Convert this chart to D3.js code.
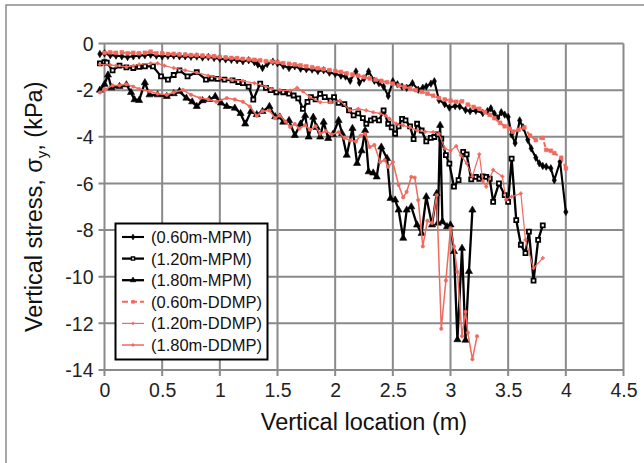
<!DOCTYPE html>
<html>
<head>
<meta charset="utf-8">
<script src="https://cdn.jsdelivr.net/npm/d3@7/dist/d3.min.js"></script>
<style>
  html, body { margin: 0; padding: 0; background: #fff; }
  svg { display: block; font-family: Arial, "Liberation Sans", sans-serif; }
</style>
</head>
<body>
<svg id="chart" width="644" height="463"></svg>
<script>
// Axis ticks
const xTicks = [0, 0.5, 1, 1.5, 2, 2.5, 3, 3.5, 4, 4.5];
const yTicks = [0, -2, -4, -6, -8, -10, -12, -14];

// Series: [vertical location (m), vertical stress (kPa)]
const mpm060 = [[-0.04,-0.45],[0.0,-0.42],[0.05,-0.5],[0.1,-0.52],[0.15,-0.55],[0.2,-0.58],[0.25,-0.55],[0.3,-0.52],[0.35,-0.5],[0.4,-0.48],[0.45,-0.52],[0.5,-0.55],[0.55,-0.53],[0.6,-0.52],[0.65,-0.55],[0.7,-0.55],[0.75,-0.57],[0.8,-0.56],[0.85,-0.6],[0.9,-0.58],[0.95,-0.62],[1.0,-0.65],[1.05,-0.68],[1.1,-0.7],[1.15,-0.72],[1.2,-0.76],[1.25,-0.72],[1.3,-0.8],[1.33,-0.9],[1.37,-1.05],[1.41,-0.88],[1.46,-0.78],[1.5,-0.85],[1.55,-0.95],[1.6,-1.05],[1.65,-0.98],[1.7,-1.08],[1.75,-1.1],[1.8,-1.12],[1.85,-1.18],[1.9,-1.15],[1.95,-1.25],[2.0,-1.3],[2.05,-1.38],[2.09,-1.42],[2.13,-1.6],[2.18,-1.2],[2.21,-1.68],[2.25,-1.5],[2.29,-1.2],[2.34,-1.6],[2.38,-1.7],[2.42,-1.85],[2.46,-2.25],[2.5,-1.62],[2.54,-1.75],[2.58,-1.85],[2.62,-1.9],[2.67,-1.7],[2.72,-1.98],[2.76,-1.9],[2.79,-1.84],[2.83,-1.72],[2.86,-1.62],[2.9,-2.42],[2.95,-2.6],[2.99,-2.75],[3.04,-2.68],[3.08,-2.7],[3.13,-2.85],[3.17,-2.9],[3.22,-2.88],[3.28,-2.98],[3.32,-2.9],[3.35,-2.78],[3.38,-3.0],[3.41,-3.2],[3.44,-2.95],[3.47,-3.05],[3.5,-3.15],[3.53,-3.9],[3.56,-4.27],[3.6,-3.3],[3.63,-3.6],[3.67,-4.13],[3.7,-4.5],[3.74,-4.9],[3.77,-5.14],[3.8,-5.25],[3.83,-5.28],[3.87,-5.35],[3.9,-5.86],[3.95,-5.07],[4.0,-7.22]];

const mpm120 = [[-0.04,-0.85],[0.0,-0.8],[0.02,-0.82],[0.07,-1.15],[0.13,-0.95],[0.19,-1.02],[0.25,-1.05],[0.3,-1.0],[0.35,-0.98],[0.42,-0.98],[0.49,-1.41],[0.55,-1.55],[0.6,-1.35],[0.65,-1.15],[0.72,-1.41],[0.8,-1.23],[0.88,-1.55],[0.93,-1.5],[0.98,-1.52],[1.04,-1.55],[1.11,-1.58],[1.16,-1.65],[1.2,-1.7],[1.25,-1.85],[1.29,-2.41],[1.35,-1.72],[1.4,-1.9],[1.44,-2.0],[1.49,-2.09],[1.55,-2.09],[1.6,-2.15],[1.64,-2.23],[1.68,-2.35],[1.72,-2.8],[1.76,-2.5],[1.79,-2.3],[1.83,-2.4],[1.87,-2.16],[1.91,-2.3],[1.96,-2.45],[1.99,-2.3],[2.03,-2.55],[2.08,-2.6],[2.12,-2.87],[2.16,-3.08],[2.2,-3.0],[2.24,-3.2],[2.27,-3.44],[2.31,-3.3],[2.34,-3.22],[2.38,-3.3],[2.42,-2.87],[2.46,-3.44],[2.49,-3.6],[2.52,-3.87],[2.55,-3.55],[2.58,-3.23],[2.61,-3.3],[2.65,-3.55],[2.68,-4.1],[2.71,-3.44],[2.75,-3.73],[2.79,-4.2],[2.83,-4.05],[2.86,-4.01],[2.89,-3.9],[2.92,-4.08],[2.96,-4.79],[2.99,-5.15],[3.03,-6.14],[3.07,-5.86],[3.11,-4.65],[3.14,-4.75],[3.18,-5.83],[3.22,-5.72],[3.25,-5.8],[3.28,-5.7],[3.31,-5.72],[3.34,-5.8],[3.37,-6.79],[3.42,-6.0],[3.47,-6.5],[3.5,-6.79],[3.53,-4.94],[3.57,-7.57],[3.61,-8.63],[3.65,-8.99],[3.68,-8.07],[3.72,-10.17],[3.76,-8.42],[3.8,-7.8]];

const mpm180 = [[-0.04,-2.0],[0.0,-1.75],[0.03,-1.35],[0.06,-1.9],[0.13,-1.84],[0.19,-1.77],[0.23,-2.1],[0.26,-2.41],[0.3,-2.44],[0.35,-1.68],[0.39,-2.2],[0.46,-2.2],[0.54,-2.27],[0.6,-2.15],[0.65,-2.05],[0.71,-2.34],[0.76,-2.5],[0.8,-2.7],[0.85,-2.45],[0.91,-2.4],[0.96,-2.27],[1.01,-2.55],[1.06,-2.7],[1.13,-2.77],[1.18,-3.0],[1.22,-3.45],[1.27,-2.91],[1.32,-3.05],[1.37,-2.91],[1.43,-2.7],[1.48,-3.14],[1.52,-3.15],[1.55,-3.37],[1.6,-3.3],[1.65,-3.94],[1.7,-3.45],[1.74,-3.09],[1.77,-4.01],[1.81,-3.16],[1.84,-3.6],[1.87,-4.01],[1.9,-3.37],[1.94,-4.07],[1.98,-3.9],[2.03,-3.3],[2.06,-3.86],[2.1,-4.79],[2.15,-3.64],[2.19,-5.14],[2.23,-4.6],[2.26,-3.73],[2.29,-5.5],[2.33,-5.55],[2.36,-5.72],[2.4,-4.44],[2.45,-4.93],[2.48,-6.64],[2.52,-6.71],[2.55,-7.14],[2.59,-8.35],[2.62,-7.14],[2.66,-7.0],[2.71,-7.78],[2.75,-8.14],[2.79,-6.57],[2.84,-7.78],[2.88,-6.43],[2.89,-7.7],[2.91,-3.51],[2.93,-7.64],[2.97,-7.85],[3.0,-7.78],[3.03,-8.92],[3.06,-12.7],[3.1,-8.78],[3.13,-12.72],[3.16,-9.77],[3.19,-7.14]];

const ddmp060 = [[0,-0.4],[0.05,-0.38],[0.1,-0.4],[0.15,-0.38],[0.2,-0.42],[0.25,-0.4],[0.3,-0.42],[0.35,-0.4],[0.4,-0.35],[0.45,-0.42],[0.5,-0.42],[0.55,-0.45],[0.6,-0.45],[0.65,-0.47],[0.7,-0.48],[0.75,-0.5],[0.8,-0.5],[0.85,-0.52],[0.9,-0.55],[0.95,-0.55],[1.0,-0.58],[1.05,-0.6],[1.1,-0.62],[1.15,-0.63],[1.2,-0.66],[1.25,-0.68],[1.3,-0.7],[1.35,-0.72],[1.4,-0.76],[1.45,-0.78],[1.5,-0.8],[1.55,-0.84],[1.6,-0.87],[1.65,-0.9],[1.7,-0.94],[1.75,-0.98],[1.8,-1.02],[1.85,-1.06],[1.9,-1.1],[1.95,-1.14],[2.0,-1.18],[2.05,-1.22],[2.1,-1.28],[2.15,-1.33],[2.2,-1.38],[2.25,-1.44],[2.3,-1.5],[2.35,-1.55],[2.4,-1.6],[2.45,-1.66],[2.5,-1.72],[2.55,-1.8],[2.6,-1.86],[2.65,-1.93],[2.7,-2.0],[2.75,-2.07],[2.8,-2.15],[2.85,-2.24],[2.9,-2.34],[2.95,-2.4],[3.0,-2.45],[3.05,-2.5],[3.1,-2.48],[3.15,-2.62],[3.2,-2.72],[3.25,-2.8],[3.3,-2.95],[3.34,-3.06],[3.38,-3.2],[3.43,-3.4],[3.47,-3.55],[3.51,-3.65],[3.54,-3.78],[3.59,-3.7],[3.64,-3.6],[3.69,-3.95],[3.74,-4.14],[3.8,-4.05],[3.83,-4.56],[3.87,-4.6],[3.9,-4.7],[3.96,-4.9],[4.0,-5.35]];

const ddmp120 = [[-0.04,-0.9],[0.05,-0.92],[0.1,-0.95],[0.19,-1.0],[0.25,-0.95],[0.3,-0.9],[0.4,-0.85],[0.46,-0.85],[0.52,-0.95],[0.6,-1.05],[0.7,-1.15],[0.8,-1.25],[0.9,-1.38],[1.0,-1.48],[1.1,-1.55],[1.2,-1.6],[1.3,-1.7],[1.4,-1.85],[1.45,-1.95],[1.52,-2.0],[1.61,-2.02],[1.67,-1.9],[1.72,-2.05],[1.78,-2.3],[1.87,-2.52],[1.96,-2.52],[2.04,-2.45],[2.13,-2.87],[2.2,-2.8],[2.27,-2.87],[2.33,-2.95],[2.39,-3.0],[2.44,-3.1],[2.47,-3.22],[2.53,-3.44],[2.59,-3.51],[2.65,-3.6],[2.71,-3.73],[2.78,-3.78],[2.85,-3.8],[2.9,-3.87],[2.95,-4.5],[3.0,-4.6],[3.05,-4.4],[3.09,-4.8],[3.14,-5.14],[3.19,-5.7],[3.25,-4.75],[3.28,-5.9],[3.31,-6.14],[3.37,-5.42],[3.45,-5.7],[3.48,-6.7],[3.53,-6.57],[3.61,-6.43],[3.65,-8.42],[3.72,-9.63],[3.8,-9.2]];

const ddmp180 = [[-0.04,-2.1],[0.0,-1.98],[0.07,-1.8],[0.13,-1.8],[0.19,-1.75],[0.25,-1.85],[0.3,-1.95],[0.39,-2.05],[0.46,-2.15],[0.54,-2.2],[0.6,-2.1],[0.68,-1.99],[0.75,-2.2],[0.83,-2.34],[0.9,-2.4],[0.97,-2.5],[1.06,-2.34],[1.13,-2.4],[1.2,-2.5],[1.26,-2.7],[1.32,-3.1],[1.37,-2.9],[1.43,-2.87],[1.48,-3.2],[1.52,-3.09],[1.57,-3.35],[1.61,-3.58],[1.65,-3.45],[1.69,-3.65],[1.74,-3.5],[1.78,-3.7],[1.83,-3.55],[1.87,-3.87],[1.92,-3.75],[1.97,-3.9],[2.03,-3.8],[2.08,-4.05],[2.13,-4.15],[2.18,-4.2],[2.22,-3.95],[2.26,-3.87],[2.3,-4.44],[2.34,-4.35],[2.39,-5.08],[2.43,-5.0],[2.46,-5.29],[2.5,-5.08],[2.55,-6.07],[2.59,-6.6],[2.62,-6.36],[2.66,-5.72],[2.69,-5.75],[2.72,-6.71],[2.76,-8.7],[2.8,-7.6],[2.84,-7.7],[2.88,-6.5],[2.92,-12.23],[2.96,-10.16],[3.0,-7.92],[3.03,-8.7],[3.06,-9.8],[3.1,-12.55],[3.13,-11.5],[3.15,-12.4],[3.19,-13.54],[3.23,-12.55]];

const legendLabels = ["(0.60m-MPM)", "(1.20m-MPM)", "(1.80m-MPM)", "(0.60m-DDMP)", "(1.20m-DDMP)", "(1.80m-DDMP)"];

const BLACK = "#000";
const RED = "#f2695e";

const series = [
  { data: mpm060,  color: BLACK, width: 2.1, dash: null, symbol: d3.symbolDiamond, size: 16, fill: BLACK },
  { data: mpm120,  color: BLACK, width: 2.3, dash: null, symbol: d3.symbolSquare,  size: 16, fill: "#fff" },
  { data: mpm180,  color: BLACK, width: 2.3, dash: null, symbol: d3.symbolTriangle, size: 22, fill: BLACK },
  { data: ddmp060, color: RED,   width: 2,   dash: "5,3", symbol: d3.symbolSquare, size: 14, fill: RED },
  { data: ddmp120, color: RED,   width: 1.2, dash: null, symbol: d3.symbolCross,   size: 6,  fill: RED },
  { data: ddmp180, color: RED,   width: 1.5, dash: null, symbol: d3.symbolCircle,  size: 9,  fill: RED }
];

const svg = d3.select("#chart");
const x = d3.scaleLinear().domain([0, 4.5]).range([104.5, 623.5]);
const y = d3.scaleLinear().domain([0, -14]).range([43.5, 370]);
const GRID = "#8a8a8a";

// outer frame
svg.append("rect").attr("x", 6).attr("y", 5).attr("width", 660).attr("height", 480)
  .attr("fill", "none").attr("stroke", "#8a8a8a").attr("stroke-width", 1.5);

// grid
const grid = svg.append("g");
grid.selectAll("line.v").data(xTicks).join("line")
  .attr("x1", d => x(d)).attr("x2", d => x(d)).attr("y1", y(0)).attr("y2", y(-14) + 6)
  .attr("stroke", GRID).attr("stroke-width", 2);
grid.selectAll("line.h").data(yTicks).join("line")
  .attr("x1", x(0) - 6).attr("x2", x(4.5)).attr("y1", d => y(d)).attr("y2", d => y(d))
  .attr("stroke", GRID).attr("stroke-width", 2);

// tick labels through d3 axes (domain and tick lines removed; grid drawn above)
const fmt = d => String(d);
const xAxis = svg.append("g").attr("transform", `translate(0,${y(-14)})`)
  .call(d3.axisBottom(x).tickValues(xTicks).tickSize(0).tickPadding(13).tickFormat(fmt));
const yAxis = svg.append("g").attr("transform", `translate(${x(0)},0)`)
  .call(d3.axisLeft(y).tickValues(yTicks).tickSize(0).tickPadding(11).tickFormat(fmt));
[xAxis, yAxis].forEach(a => {
  a.select(".domain").remove();
  a.selectAll("text").attr("font-size", 19.5).attr("fill", "#222")
    .attr("font-family", "Arial, 'Liberation Sans', sans-serif");
});
xAxis.selectAll("text").attr("dy", "0.71em");
yAxis.selectAll("text").attr("dy", "0.35em");

// series lines and markers
const line = d3.line().x(d => x(d[0])).y(d => y(d[1]));
const plot = svg.append("g");
series.forEach(s => {
  const g = plot.append("g");
  g.append("path").datum(s.data).attr("d", line).attr("fill", "none")
    .attr("stroke", s.color).attr("stroke-width", s.width)
    .attr("stroke-linejoin", "round")
    .attr("stroke-dasharray", s.dash);
  g.selectAll("path.m").data(s.data).join("path").attr("class", "m")
    .attr("transform", d => `translate(${x(d[0])},${y(d[1])})`)
    .attr("d", d3.symbol(s.symbol, s.size))
    .attr("fill", s.fill).attr("stroke", s.color).attr("stroke-width", s.fill === "#fff" ? 1.8 : 0.6);
});

// legend
const lg = svg.append("g");
lg.append("rect").attr("x", 115.5).attr("y", 223.5).attr("width", 152).attr("height", 136)
  .attr("fill", "#fff").attr("stroke", "#000").attr("stroke-width", 2);
series.forEach((s, i) => {
  const cy = 237 + i * 21.6;
  lg.append("line").attr("x1", 122).attr("x2", 144).attr("y1", cy).attr("y2", cy)
    .attr("stroke", s.color).attr("stroke-width", s.width)
    .attr("stroke-dasharray", s.dash ? "6,3" : null);
  lg.append("path").attr("transform", `translate(133,${cy})`)
    .attr("d", d3.symbol(s.symbol, s.size * 0.6))
    .attr("fill", s.fill).attr("stroke", s.color).attr("stroke-width", s.fill === "#fff" ? 1.4 : 0.6);
  lg.append("text").attr("x", 151).attr("y", cy + 6).attr("font-size", 16.5).attr("fill", "#111")
    .text(legendLabels[i]);
});

// axis titles
svg.append("text").attr("x", (x(0) + x(4.5)) / 2).attr("y", 430).attr("text-anchor", "middle")
  .attr("font-size", 23.5).attr("fill", "#111").text("Vertical location (m)");
const yt = svg.append("text").attr("transform", `translate(42,${(y(0) + y(-14)) / 2}) rotate(-90)`)
  .attr("text-anchor", "middle").attr("font-size", 23.5).attr("fill", "#111");
yt.append("tspan").text("Vertical stress, σ");
yt.append("tspan").attr("font-size", 15).attr("dy", 5).text("y");
yt.append("tspan").attr("dy", -5).text(", (kPa)");
</script>
</body>
</html>
